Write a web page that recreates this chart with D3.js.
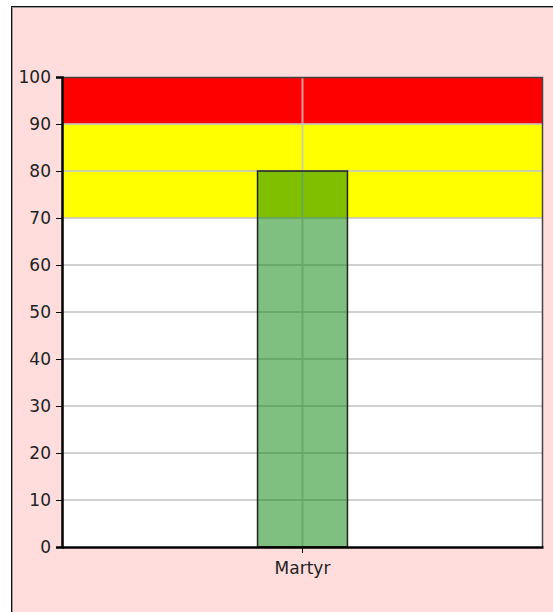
<!DOCTYPE html>
<html>
<head>
<meta charset="utf-8">
<script src="https://cdn.jsdelivr.net/npm/d3@7"></script>
<style>
  html, body { margin: 0; padding: 0; background: #ffffff; }
  svg { display: block; }
  text { font-family: "DejaVu Sans", Verdana, sans-serif; font-size: 17px; fill: #222; }
</style>
</head>
<body>
<svg id="chart" width="553" height="612"></svg>
<script>
// Categories and their scores
const categories = ["Martyr"];
const values = [80];

// Coloured threshold bands behind the bars
const bandFrom = [70, 90];
const bandTo = [90, 100];
const bandColors = ["#ffff00", "#ff0000"];

// Value axis ticks
const yTicks = [0, 10, 20, 30, 40, 50, 60, 70, 80, 90, 100];

const W = 553, H = 612;
const margin = { left: 62, right: 10, top: 77, bottom: 65 };
const plotW = W - margin.left - margin.right;
const plotH = H - margin.top - margin.bottom;

const svg = d3.select("#chart");

// Outer panel
svg.append("rect")
  .attr("x", 11.5).attr("y", 6.5)
  .attr("width", W).attr("height", H)
  .attr("fill", "#ffdddd")
  .attr("stroke", "#111").attr("stroke-width", 1);
svg.append("path")
  .attr("d", `M12.5,${H} V7.5 H${W}`)
  .attr("fill", "none").attr("stroke", "#999").attr("stroke-width", 1);

const x = d3.scaleBand()
  .domain(categories)
  .range([0, plotW])
  .paddingInner(0.685)
  .paddingOuter(0.685);

const y = d3.scaleLinear()
  .domain([0, 100])
  .range([plotH, 0]);

const g = svg.append("g").attr("transform", `translate(${margin.left},${margin.top})`);

// Plot background
g.append("rect")
  .attr("width", plotW).attr("height", plotH)
  .attr("fill", "#ffffff");

// Threshold bands
g.selectAll("rect.band")
  .data(bandFrom.map((f, i) => ({ from: f, to: bandTo[i], color: bandColors[i] })))
  .join("rect")
  .attr("class", "band")
  .attr("x", 0)
  .attr("width", plotW)
  .attr("y", d => y(d.to))
  .attr("height", d => y(d.from) - y(d.to))
  .attr("fill", d => d.color);

// Horizontal gridlines
g.selectAll("line.hgrid")
  .data(yTicks.filter(t => t > 0 && t < 100))
  .join("line")
  .attr("class", "hgrid")
  .attr("x1", 0).attr("x2", plotW)
  .attr("y1", d => Math.round(y(d)))
  .attr("y2", d => Math.round(y(d)))
  .attr("stroke", "#c4c4c4").attr("stroke-opacity", 0.8).attr("stroke-width", 2);

// Vertical gridline through each category
g.selectAll("line.vgrid")
  .data(categories)
  .join("line")
  .attr("class", "vgrid")
  .attr("x1", d => x(d) + x.bandwidth() / 2)
  .attr("x2", d => x(d) + x.bandwidth() / 2)
  .attr("y1", 0).attr("y2", plotH)
  .attr("stroke", "#c4c4c4").attr("stroke-opacity", 0.8).attr("stroke-width", 2);

// Bars
g.selectAll("rect.bar")
  .data(categories.map((c, i) => ({ c, v: values[i] })))
  .join("rect")
  .attr("class", "bar")
  .attr("x", d => x(d.c))
  .attr("width", x.bandwidth())
  .attr("y", d => y(d.v))
  .attr("height", d => plotH - y(d.v))
  .attr("fill", "rgb(0,128,0)")
  .attr("fill-opacity", 0.5)
  .attr("stroke", "#222")
  .attr("stroke-width", 1.5);

// Plot frame (top and right)
g.append("path")
  .attr("d", `M0,0.5 H${plotW - 0.5} V${plotH}`)
  .attr("fill", "none").attr("stroke", "#444").attr("stroke-width", 1.5);

// Axes
const yAxis = d3.axisLeft(y).tickValues(yTicks).tickSize(6).tickPadding(5);
const yg = g.append("g").call(yAxis);
yg.select(".domain").attr("stroke", "#000").attr("stroke-width", 2.5);
yg.selectAll(".tick line").attr("stroke", "#000");
yg.selectAll("text").style("font-size", "17px").attr("fill", "#222");

const xAxis = d3.axisBottom(x).tickSize(6).tickPadding(9).tickSizeOuter(0);
const xg = g.append("g").attr("transform", `translate(0,${plotH})`).call(xAxis);
xg.select(".domain").attr("stroke", "#000").attr("stroke-width", 2.5);
xg.selectAll(".tick line").attr("stroke", "#000");
xg.selectAll("text").style("font-size", "17px").attr("fill", "#222");
</script>
</body>
</html>
